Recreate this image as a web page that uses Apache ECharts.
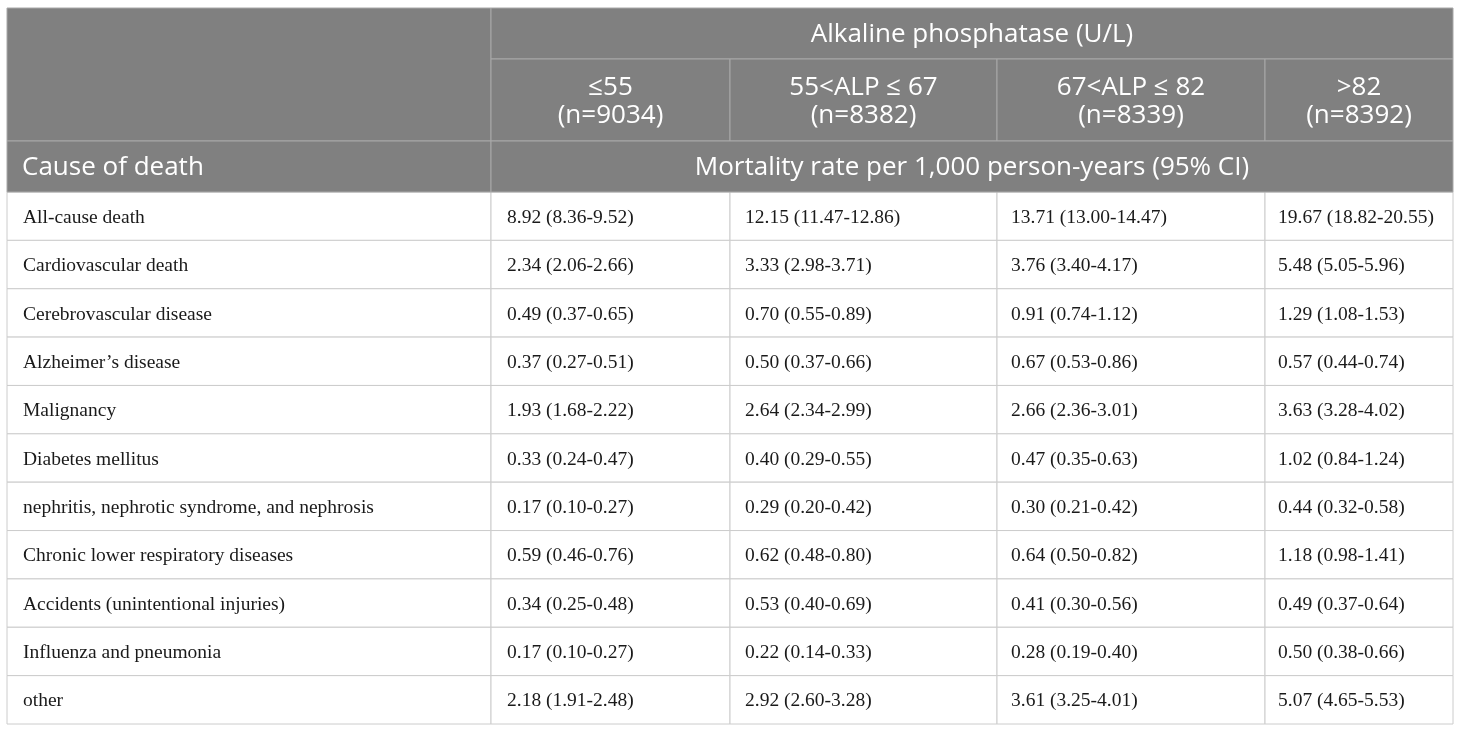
<!DOCTYPE html>
<html>
<head>
<meta charset="utf-8">
<script src="https://cdn.jsdelivr.net/npm/echarts@6/dist/echarts.min.js"></script>
<style>
html,body{margin:0;padding:0;background:#fff;}
#chart{width:1460px;height:732px;}
</style>
</head>
<body>
<div id="chart"></div>
<script>
// ---- data ----
const headerTitle = 'Alkaline phosphatase (U/L)';
const rowHeaderTitle = 'Cause of death';
const rateTitle = 'Mortality rate per 1,000 person-years (95% CI)';
const groups = ['≤55', '55<ALP ≤ 67', '67<ALP ≤ 82', '>82'];
const groupN = [9034, 8382, 8339, 8392];
const causes = [
  'All-cause death',
  'Cardiovascular death',
  'Cerebrovascular disease',
  'Alzheimer\u2019s disease',
  'Malignancy',
  'Diabetes mellitus',
  'nephritis, nephrotic syndrome, and nephrosis',
  'Chronic lower respiratory diseases',
  'Accidents (unintentional injuries)',
  'Influenza and pneumonia',
  'other'
];
const rateG1 = [8.92, 2.34, 0.49, 0.37, 1.93, 0.33, 0.17, 0.59, 0.34, 0.17, 2.18];
const lowG1  = [8.36, 2.06, 0.37, 0.27, 1.68, 0.24, 0.10, 0.46, 0.25, 0.10, 1.91];
const highG1 = [9.52, 2.66, 0.65, 0.51, 2.22, 0.47, 0.27, 0.76, 0.48, 0.27, 2.48];
const rateG2 = [12.15, 3.33, 0.70, 0.50, 2.64, 0.40, 0.29, 0.62, 0.53, 0.22, 2.92];
const lowG2  = [11.47, 2.98, 0.55, 0.37, 2.34, 0.29, 0.20, 0.48, 0.40, 0.14, 2.60];
const highG2 = [12.86, 3.71, 0.89, 0.66, 2.99, 0.55, 0.42, 0.80, 0.69, 0.33, 3.28];
const rateG3 = [13.71, 3.76, 0.91, 0.67, 2.66, 0.47, 0.30, 0.64, 0.41, 0.28, 3.61];
const lowG3  = [13.00, 3.40, 0.74, 0.53, 2.36, 0.35, 0.21, 0.50, 0.30, 0.19, 3.25];
const highG3 = [14.47, 4.17, 1.12, 0.86, 3.01, 0.63, 0.42, 0.82, 0.56, 0.40, 4.01];
const rateG4 = [19.67, 5.48, 1.29, 0.57, 3.63, 1.02, 0.44, 1.18, 0.49, 0.50, 5.07];
const lowG4  = [18.82, 5.05, 1.08, 0.44, 3.28, 0.84, 0.32, 0.98, 0.37, 0.38, 4.65];
const highG4 = [20.55, 5.96, 1.53, 0.74, 4.02, 1.24, 0.58, 1.41, 0.64, 0.66, 5.53];

// ---- layout (axis units) ----
const colEdges = [0, 484, 723, 990, 1258, 1446];
const headerRowH = [51, 82, 51];
const dataRowH = 48.36;
const rowEdges = [0];
headerRowH.forEach(h => rowEdges.push(rowEdges[rowEdges.length - 1] + h));
causes.forEach(() => rowEdges.push(rowEdges[rowEdges.length - 1] + dataRowH));
const totalH = rowEdges[rowEdges.length - 1];

const rates = [rateG1, rateG2, rateG3, rateG4];
const lows = [lowG1, lowG2, lowG3, lowG4];
const highs = [highG1, highG2, highG3, highG4];
const fmt = v => v.toFixed(2);

// ---- build cells ----
const cells = [];
cells.push({c0: 0, c1: 1, r0: 0, r1: 2, text: '', header: true});
cells.push({c0: 1, c1: 5, r0: 0, r1: 1, text: headerTitle, header: true, align: 'center'});
groups.forEach((g, i) => {
  cells.push({c0: i + 1, c1: i + 2, r0: 1, r1: 2, text: g + '\n(n=' + groupN[i] + ')', header: true, align: 'center'});
});
cells.push({c0: 0, c1: 1, r0: 2, r1: 3, text: rowHeaderTitle, header: true, align: 'left', pad: 15});
cells.push({c0: 1, c1: 5, r0: 2, r1: 3, text: rateTitle, header: true, align: 'center'});
const dataPad = [16, 16, 15, 14, 13];
causes.forEach((cause, r) => {
  cells.push({c0: 0, c1: 1, r0: r + 3, r1: r + 4, text: cause, header: false, align: 'left', pad: dataPad[0]});
  for (let g = 0; g < 4; g++) {
    const t = fmt(rates[g][r]) + ' (' + fmt(lows[g][r]) + '-' + fmt(highs[g][r]) + ')';
    cells.push({c0: g + 1, c1: g + 2, r0: r + 3, r1: r + 4, text: t, header: false, align: 'left', pad: dataPad[g + 1]});
  }
});

const chart = echarts.init(document.getElementById('chart'), null, {renderer: 'canvas'});
chart.setOption({
  animation: false,
  backgroundColor: '#ffffff',
  grid: {left: 7, top: 8, width: 1446, height: 716, show: false},
  xAxis: {type: 'value', min: 0, max: colEdges[colEdges.length - 1], show: false},
  yAxis: {type: 'value', min: 0, max: totalH, inverse: true, show: false},
  series: [{
    type: 'custom',
    clip: false,
    silent: true,
    data: cells.map((c, i) => [colEdges[c.c0], rowEdges[c.r0], i]),
    renderItem: function (params, api) {
      const c = cells[api.value(2)];
      const p0 = api.coord([colEdges[c.c0], rowEdges[c.r0]]);
      const p1 = api.coord([colEdges[c.c1], rowEdges[c.r1]]);
      const w = p1[0] - p0[0], h = p1[1] - p0[1];
      const children = [{
        type: 'rect',
        shape: {x: p0[0], y: p0[1], width: w, height: h},
        style: {
          fill: c.header ? '#808080' : '#ffffff',
          stroke: c.header ? '#a8a8a8' : '#cccccc',
          lineWidth: 1
        },
        z2: c.header ? 1 : 0
      }];
      if (c.text) {
        const isLeft = c.align === 'left';
        children.push({
          type: 'text',
          z2: 5,
          style: {
            text: c.text,
            x: isLeft ? p0[0] + (c.pad || 15) : p0[0] + w / 2,
            y: p0[1] + h / 2 + 1.5,
            align: isLeft ? 'left' : 'center',
            verticalAlign: 'middle',
            fill: c.header ? '#ffffff' : '#1a1a1a',
            font: c.header ? '26px "Open Sans"' : '19.5px "Liberation Serif"',
            lineHeight: 28
          }
        });
      }
      return {type: 'group', children: children};
    }
  }]
});
</script>
</body>
</html>
